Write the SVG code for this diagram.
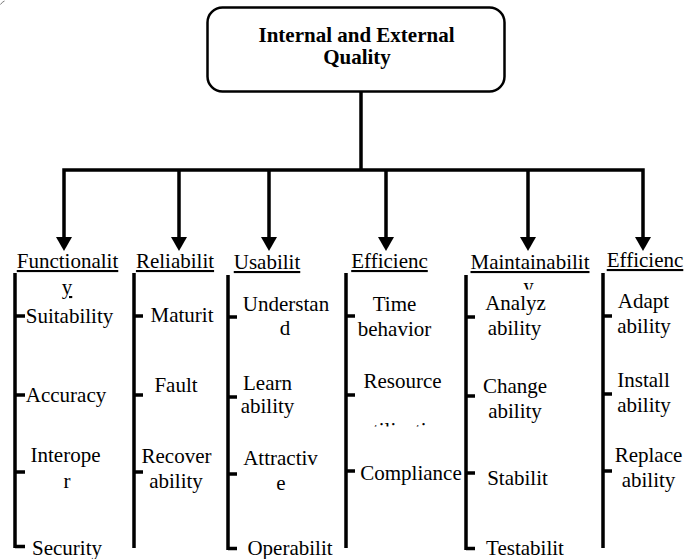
<svg xmlns="http://www.w3.org/2000/svg" width="699" height="559" viewBox="0 0 699 559">
<style>
text{font-family:"Liberation Serif","Times New Roman",serif;font-size:21px;fill:#000;text-anchor:middle}
.t{font-weight:bold}
.h{text-decoration:underline}
.ln{fill:none;stroke:#000;stroke-width:3.5;stroke-linejoin:miter}
.br{fill:none;stroke:#000;stroke-width:3.5}
.ah{fill:#000}
</style>
<defs>
<clipPath id="cu"><rect x="340" y="400" width="120" height="26.5"/></clipPath>
<clipPath id="cy"><rect x="500" y="274" width="60" height="15.5"/></clipPath>
</defs>
<path d="M0.5,4.5 Q2,2 4.5,1" fill="none" stroke="#777" stroke-width="1"/>
<g id="root">
<rect x="207.5" y="7.5" width="297" height="84" rx="15" fill="#fff" stroke="#000" stroke-width="2.5"/>
<text class="t" x="356.5" y="42">Internal and External</text>
<text class="t" x="357" y="64">Quality</text>
</g>
<g id="connectors">
<path class="ln" d="M361,92 V170"/>
<path class="ln" d="M64,238 V170 H643 V238"/>
<path class="ln" d="M179,170 V238 M269,170 V238 M386,170 V238 M528,170 V238"/>
<polygon class="ah" points="56,237 72,237 64,251"/>
<polygon class="ah" points="171,237 187,237 179,251"/>
<polygon class="ah" points="261,237 277,237 269,251"/>
<polygon class="ah" points="378,237 394,237 386,251"/>
<polygon class="ah" points="520,237 536,237 528,251"/>
<polygon class="ah" points="635,237 651,237 643,251"/>
</g>
<g id="functionality">
<text class="h" x="67.5" y="268">Functionalit</text>
<text class="h" x="67" y="294">y</text>
<path class="br" d="M15,273 V548 M15,316 H25 M15,395 H25 M15,472 H25 M15,546.5 H25"/>
<text x="69.5" y="323">Suitability</text>
<text x="66" y="402">Accuracy</text>
<text x="65.5" y="462">Interope</text>
<text x="67" y="488">r</text>
<text x="67" y="555">Security</text>
</g>
<g id="reliability">
<text class="h" x="175" y="268">Reliabilit</text>
<path class="br" d="M134,273 V548 M134,316 H143 M134,395 H143 M134,472 H143"/>
<text x="182" y="322">Maturit</text>
<text x="176" y="392">Fault</text>
<text x="176.5" y="463">Recover</text>
<text x="176" y="488">ability</text>
</g>
<g id="usability">
<text class="h" x="267" y="269">Usabilit</text>
<path class="br" d="M228,275 V550 M228,317 H237 M228,397 H237 M228,474 H237 M228,548.5 H237"/>
<text x="286" y="311">Understan</text>
<text x="285" y="335">d</text>
<text x="267.5" y="390">Learn</text>
<text x="267.5" y="413">ability</text>
<text x="280.5" y="465">Attractiv</text>
<text x="281" y="490">e</text>
<text x="290" y="555">Operabilit</text>
</g>
<g id="efficiency1">
<text class="h" x="389.5" y="268">Efficienc</text>
<path class="br" d="M346,273 V548 M346,316 H355 M346,395 H355 M346,471 H355"/>
<text x="394.5" y="311">Time</text>
<text x="394.5" y="336">behavior</text>
<text x="402.5" y="388">Resource</text>
<text x="405" y="437" clip-path="url(#cu)">utilization</text>
<text x="411" y="480">Compliance</text>
</g>
<g id="maintainability">
<text class="h" x="530" y="269">Maintainabilit</text>
<text x="528.5" y="293" clip-path="url(#cy)">y</text>
<path class="br" d="M466,275 V550 M466,317 H475 M466,396 H475 M466,473 H475 M466,548.5 H475"/>
<text x="515.5" y="310">Analyz</text>
<text x="514.5" y="335">ability</text>
<text x="515" y="393">Change</text>
<text x="515" y="418">ability</text>
<text x="517.5" y="485">Stabilit</text>
<text x="525" y="555">Testabilit</text>
</g>
<g id="efficiency2">
<text class="h" x="645" y="267">Efficienc</text>
<path class="br" d="M603,273 V548 M603,316 H612 M603,394 H612 M603,471 H612"/>
<text x="643.5" y="308">Adapt</text>
<text x="644" y="333">ability</text>
<text x="643.5" y="387">Install</text>
<text x="644" y="412">ability</text>
<text x="648.5" y="462">Replace</text>
<text x="648.5" y="487">ability</text>
</g>
</svg>
